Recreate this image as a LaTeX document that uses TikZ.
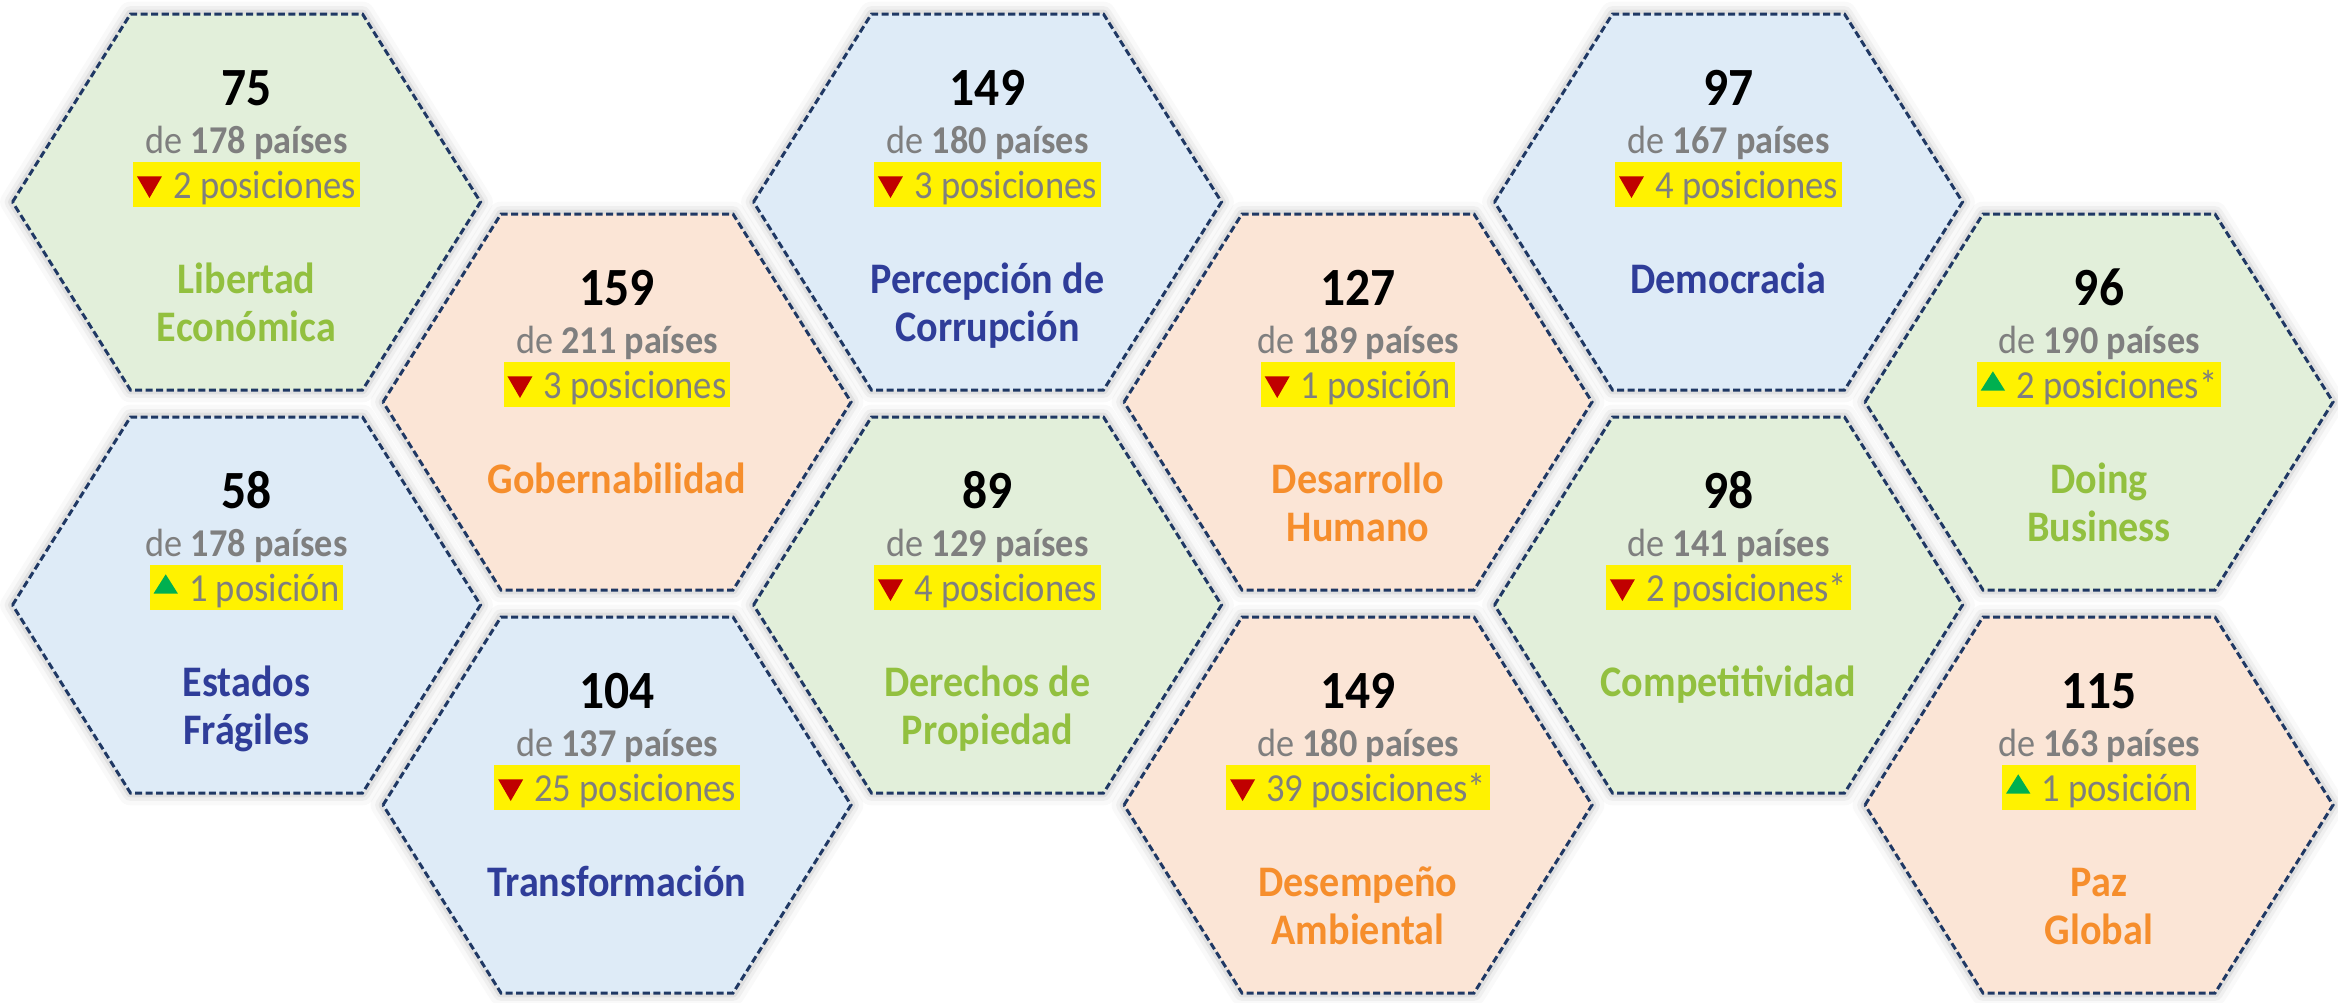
\documentclass[tikz,border=0pt]{standalone}
\usepackage{fontspec}
\setmainfont{Carlito}[FakeStretch=0.92]
\definecolor{fverde}{HTML}{E2EFDA}
\definecolor{fnaranja}{HTML}{FBE5D6}
\definecolor{fazul}{HTML}{DEEBF7}
\definecolor{tverde}{HTML}{92C03F}
\definecolor{tnaranja}{HTML}{F68E2C}
\definecolor{tazul}{HTML}{2F3D99}
\definecolor{gristexto}{HTML}{7F7F7F}
\definecolor{borde}{HTML}{1F3864}
\definecolor{rojo}{HTML}{C00000}
\definecolor{verdeflecha}{HTML}{00B050}
\newcommand\bajo{\tikz[baseline=0pt]\fill[rojo] (0pt,6.15pt) -- (7.1pt,6.15pt) -- (3.55pt,0pt) -- cycle;}
\newcommand\sube{\tikz[baseline=0pt]\fill[verdeflecha] (0pt,2.1pt) -- (6.94pt,2.1pt) -- (3.47pt,7.6pt) -- cycle;}
\tikzset{
  numero/.style={anchor=base, inner sep=0pt, font=\fontsize{15.3}{18}\selectfont\bfseries},
  paises/.style={anchor=base, inner sep=0pt, text=gristexto, font=\fontsize{11.2}{13}\selectfont},
  cambio/.style={anchor=base, fill=yellow, inner xsep=1.1pt, inner ysep=0pt, text height=10.3pt,
    text depth=2.55pt, text=gristexto, font=\fontsize{11.3}{13}\selectfont},
  titulo/.style={anchor=base, inner sep=0pt, font=\fontsize{12.4}{14}\selectfont\bfseries},
  contorno/.style={draw=borde, line width=0.85pt, dash pattern=on 2pt off 1pt}
}
\newcommand\hexa[3]{%
  \foreach \w/\o in {7pt/0.05, 4.5pt/0.08, 2.5pt/0.14}
    {\draw[line width=\w, gray, opacity=\o, line join=round] (#1-234,#2) -- (#1-116,#2-188) -- (#1+116,#2-188)
      -- (#1+234,#2) -- (#1+116,#2+188) -- (#1-116,#2+188) -- cycle;};
  \draw[fill=#3, contorno] (#1-234,#2) -- (#1-116,#2-188) -- (#1+116,#2-188)
    -- (#1+234,#2) -- (#1+116,#2+188) -- (#1-116,#2+188) -- cycle;}
\begin{document}
\begin{tikzpicture}[x=0.01cm, y=-0.01cm]
\useasboundingbox (0,0) rectangle (2338,1002);
\foreach \i/\cx/\cy/\tipo/\num/\total/\flecha/\pos/\tuno/\tdos in {
    1/246.5/202/verde/75/178/\bajo/2 posiciones/Libertad/Económica,
    2/246.5/605/azul/58/178/\sube/1 posición/Estados/Frágiles,
    3/617/402/naranja/159/211/\bajo/3 posiciones/Gobernabilidad/{},
    4/617/805/azul/104/137/\bajo/25 posiciones/Transformación/{},
    5/987.5/202/azul/149/180/\bajo/3 posiciones/Percepción de/Corrupción,
    6/987.5/605/verde/89/129/\bajo/4 posiciones/Derechos de/Propiedad,
    7/1358/402/naranja/127/189/\bajo/1 posición/Desarrollo/Humano,
    8/1358/805/naranja/149/180/\bajo/39 posiciones*/Desempeño/Ambiental,
    9/1728.5/202/azul/97/167/\bajo/4 posiciones/Democracia/{},
    10/1728.5/605/verde/98/141/\bajo/2 posiciones*/Competitividad/{},
    11/2099/402/verde/96/190/\sube/2 posiciones*/Doing/Business,
    12/2099/805/naranja/115/163/\sube/1 posición/Paz/Global}
  {\hexa{\cx}{\cy}{f\tipo}
   \node[numero] (num\i) at (\cx,\cy-97) {\num};
   \node[paises] (de\i) at (\cx,\cy-49) {de \textbf{\total\ países}};
   \node[cambio] (pos\i) at (\cx,\cy-4) {\flecha\hspace{3.2pt}\pos};
   \node[titulo, text=t\tipo] (tit\i) at (\cx,\cy+91) {\tuno};
   \node[titulo, text=t\tipo] (sub\i) at (\cx,\cy+139) {\tdos};};
\end{tikzpicture}
\end{document}
